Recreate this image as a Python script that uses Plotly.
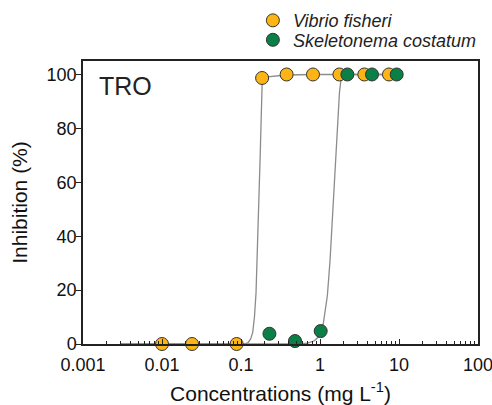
import plotly.graph_objects as go

# Measured points
vf_conc = [0.01, 0.024, 0.088, 0.185, 0.378, 0.815, 1.76, 3.64, 7.47]
vf_inhib = [0.0, 0.0, 0.0, 98.7, 100.0, 100.0, 100.0, 100.0, 100.0]
sc_conc = [0.229, 0.483, 1.02, 2.22, 4.55, 9.35]
sc_inhib = [3.8, 1.1, 4.8, 100.0, 100.0, 100.0]

# Fitted curves
vf_fit_x = [0.003, 0.11, 0.123, 0.133, 0.141, 0.148, 0.155, 0.161, 0.168, 0.175,
            0.181, 0.185, 0.2, 0.378, 0.815, 7.47]
vf_fit_y = [0.0, 0.0, 0.5, 2.0, 4.5, 10.0, 19.0, 33.0, 52.0, 70.0,
            86.0, 96.0, 99.0, 99.8, 100.0, 100.0]
sc_fit_x = [0.003, 0.55, 0.7, 0.85, 0.95, 1.03, 1.1, 1.16, 1.24, 1.34,
            1.5, 1.66, 1.76, 1.84, 1.9, 2.22, 9.35]
sc_fit_y = [0.0, 0.0, 0.3, 1.2, 2.6, 4.6, 7.5, 11.5, 18.0, 31.0,
            56.0, 81.0, 93.0, 98.0, 99.6, 100.0, 100.0]

x_tickvals = [0.001, 0.01, 0.1, 1, 10, 100]
x_ticktext = ["0.001", "0.01", "0.1", "1", "10", "100"]
y_tickvals = [0, 20, 40, 60, 80, 100]

ORANGE = "#FDB515"
GREEN = "#0A7F46"
CURVE = "#8C8C8C"
FONT = "Arial, Liberation Sans, sans-serif"

fig = go.Figure()
fig.add_trace(go.Scatter(x=vf_fit_x, y=vf_fit_y, mode="lines", line=dict(color=CURVE, width=1.3),
                         showlegend=False, hoverinfo="skip"))
fig.add_trace(go.Scatter(x=sc_fit_x, y=sc_fit_y, mode="lines", line=dict(color=CURVE, width=1.3),
                         showlegend=False, hoverinfo="skip"))
fig.add_trace(go.Scatter(x=vf_conc, y=vf_inhib, mode="markers", name="Vibrio fisheri",
                         marker=dict(color=ORANGE, size=13, line=dict(color="#333333", width=1)),
                         legend="legend", cliponaxis=False))
fig.add_trace(go.Scatter(x=sc_conc, y=sc_inhib, mode="markers", name="Skeletonema costatum",
                         marker=dict(color=GREEN, size=13, line=dict(color="#333333", width=1)),
                         legend="legend2", cliponaxis=False))

fig.add_annotation(text="TRO", xref="paper", yref="paper", x=0.035, y=0.913,
                   xanchor="left", yanchor="middle", showarrow=False,
                   font=dict(family=FONT, size=25, color="#222222"))

legend_common = dict(xanchor="left", yanchor="middle", bgcolor="rgba(0,0,0,0)",
                     xref="container", yref="container",
                     borderwidth=0, font=dict(family=FONT, size=18, color="#222222", style="italic"),
                     itemsizing="trace")
fig.update_layout(
    width=492, height=405,
    margin=dict(l=83, r=14, t=61, b=61, autoexpand=False),
    paper_bgcolor="white", plot_bgcolor="white",
    font=dict(family=FONT, size=17, color="#111111"),
    legend=dict(x=0.514, y=0.949, **legend_common),
    legend2=dict(x=0.514, y=0.901, **legend_common),
    xaxis=dict(type="log", range=[-3, 2], tickvals=x_tickvals, ticktext=x_ticktext,
               ticks="inside", ticklen=5, tickwidth=1, tickcolor="#222222",
               minor=dict(ticks="inside", ticklen=3, tickwidth=1, tickcolor="#222222", dtick="D1"),
               showline=True, linecolor="#222222", linewidth=1.5, mirror=True,
               showgrid=False, zeroline=False, automargin=False, ticklabeloverflow="allow",
               ticklabelstandoff=4,
               title=dict(text="Concentrations (mg L<sup>-1</sup>)", font=dict(size=21), standoff=12),
               tickfont=dict(size=18)),
    yaxis=dict(range=[0, 105], tickvals=y_tickvals, ticks="outside", ticklen=5, tickwidth=1,
               tickcolor="#222222", showline=True, linecolor="#222222", linewidth=1.5, mirror=True,
               showgrid=False, zeroline=False, automargin=False, ticklabeloverflow="allow",
               ticklabelstandoff=-4,
               title=dict(text="Inhibition (%)", font=dict(size=21), standoff=13),
               tickfont=dict(size=18)),
)

fig.write_html("out.html", config={"displayModeBar": False},
               post_script="document.body.style.margin='0';")
